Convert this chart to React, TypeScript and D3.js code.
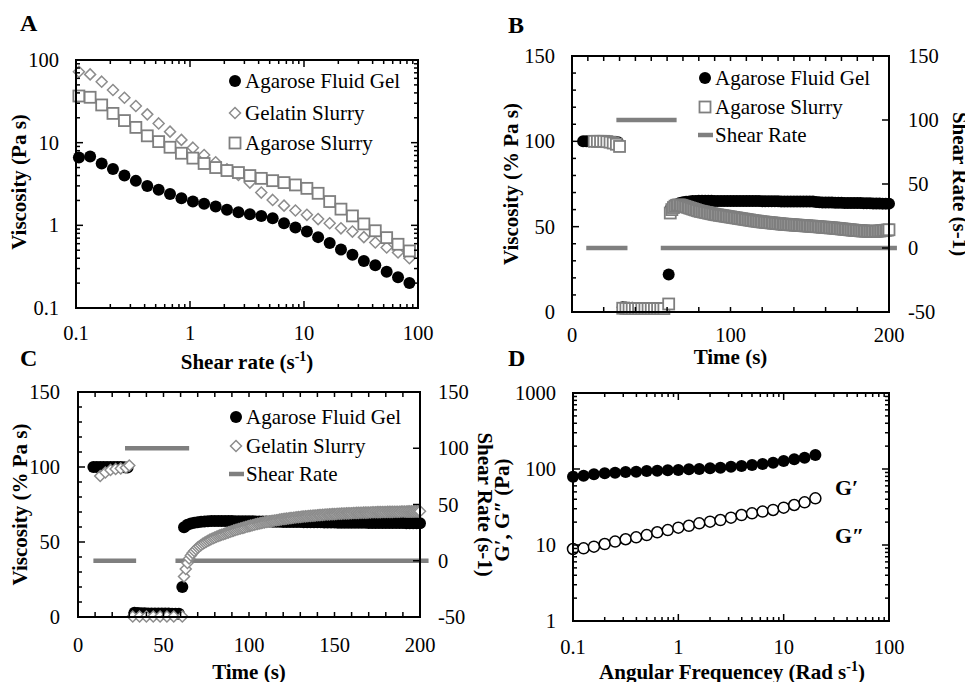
import React from "react";
import * as d3 from "d3";

const FONT = '"Liberation Serif", "DejaVu Serif", "Times New Roman", Times, serif';
const GREY = "#7f7f7f";
const DIAMOND_GREY = "#8c8c8c";
const TICK_FONT = 20.5;
const LEGEND_FONT = 21;
const TITLE_FONT = 21;

// ---------- Panel A: viscosity vs shear rate ----------
const shearRateA = [0.106, 0.133, 0.168, 0.211, 0.266, 0.335, 0.422, 0.531, 0.668, 0.841, 1.06, 1.33, 1.68, 2.11, 2.66, 3.35, 4.22, 5.31, 6.68, 8.41, 10.6, 13.3, 16.8, 21.1, 26.6, 33.5, 42.2, 53.1, 66.8, 84.1];
const fluidGelA = [6.6, 6.8, 5.6, 4.8, 4.0, 3.45, 3.0, 2.7, 2.4, 2.12, 1.94, 1.82, 1.69, 1.54, 1.44, 1.36, 1.3, 1.22, 1.06, 0.94, 0.84, 0.72, 0.61, 0.51, 0.44, 0.37, 0.33, 0.275, 0.235, 0.2];
const gelatinA = [72, 67, 54.7, 43.4, 35, 27.8, 22, 17.1, 13.6, 10.8, 8.7, 7.1, 5.8, 4.77, 4.07, 3.29, 2.49, 2.03, 1.73, 1.51, 1.34, 1.19, 1.06, 0.92, 0.84, 0.72, 0.62, 0.54, 0.47, 0.4];
const agaroseSlurryA = [36.7, 35.4, 28.6, 22.6, 18.5, 15.3, 12.1, 10.3, 8.8, 7.45, 6.5, 5.6, 5.0, 4.6, 4.35, 4.0, 3.7, 3.47, 3.29, 3.08, 2.8, 2.44, 1.94, 1.57, 1.3, 1.04, 0.86, 0.71, 0.59, 0.49];
const logTicksA = [0.1, 1, 10, 100];

// ---------- Panel B: recovery, agarose fluid gel vs agarose slurry ----------
const gelB1T = [7, 9, 11, 13, 15, 17, 19, 21, 23, 25, 27, 29];
const gelB1 = [100, 100, 100, 100, 100, 100, 100, 100, 100, 99.8, 99.6, 99.5];
const gelB2T = [32, 34, 36, 38, 40, 42, 44, 46, 48, 50, 52, 54, 56, 58, 61];
const gelB2 = [2.8, 2.6, 2.5, 2.5, 2.4, 2.4, 2.4, 2.3, 2.3, 2.3, 2.3, 2.2, 2.2, 2.2, 22];
const gelB3T = d3.range(62, 201, 2);
const gelB3 = [60, 62, 63, 63.8, 64.3, 64.6, 64.8, 65, 65.1, 65.2, 65.2, 65.2, 65.2, 65.2, 65.1, 65.1, 65.1, 65.1, 65, 65, 65, 65, 65, 65, 65, 65, 65, 65, 65, 64.9, 64.9, 64.9, 64.9, 64.9, 64.9, 64.8, 64.8, 64.8, 64.8, 64.8, 64.8, 64.8, 64.7, 64.7, 64.7, 64.7, 64.4, 64.3, 64.2, 64.2, 64.1, 64.1, 64, 64, 64, 63.9, 63.9, 63.9, 63.8, 63.8, 63.8, 63.7, 63.7, 63.7, 63.6, 63.6, 63.6, 63.5, 63.5, 63.5];
const slurryB1T = [14, 16, 18, 20, 22, 24, 26, 28, 30];
const slurryB1 = [100, 100, 100, 100, 99.8, 99.5, 99, 98.3, 97];
const slurryB2T = [32, 34, 36, 38, 40, 42, 44, 46, 48, 50, 52, 54, 56, 58, 61];
const slurryB2 = [2.2, 2.1, 2, 2, 2, 2, 2, 2, 2, 2, 2, 2, 2, 2, 4.7];
const slurryB3T = d3.range(62, 201);
const slurryB3 = [
  58, 60, 61.2, 62, 62.5, 62.7, 62.7, 62.5, 62.2, 61.9,
  61.6, 61.3, 61, 60.7, 60.4, 60.1, 59.8, 59.5, 59.2, 59,
  58.8, 58.6, 58.4, 58.2, 58, 57.8, 57.6, 57.4, 57.2, 57,
  56.9, 56.7, 56.6, 56.4, 56.3, 56.1, 56, 55.8, 55.7, 55.5,
  55.4, 55.2, 55.1, 54.9, 54.8, 54.6, 54.5, 54.3, 54.2, 54,
  53.9, 53.7, 53.6, 53.4, 53.3, 53.2, 53, 52.9, 52.8, 52.7,
  52.6, 52.5, 52.4, 52.3, 52.2, 52.1, 52, 51.9, 51.8, 51.7,
  51.6, 51.5, 51.4, 51.4, 51.3, 51.2, 51.1, 51.1, 51, 50.9,
  50.9, 50.8, 50.7, 50.7, 50.6, 50.5, 50.5, 50.4, 50.3, 50.3,
  50.2, 50.1, 50, 50, 49.9, 49.8, 49.7, 49.7, 49.6, 49.5,
  49.4, 49.3, 49.3, 49.2, 49.1, 49, 48.9, 48.8, 48.7, 48.6,
  48.5, 48.4, 48.3, 48.2, 48.1, 48, 47.9, 47.8, 47.8, 47.7,
  47.6, 47.5, 47.5, 47.4, 47.4, 47.3, 47.3, 47.2, 47.2, 47.2,
  47.3, 47.4, 47.5, 47.6, 47.7, 47.8, 47.9, 48, 48.2,
];
const shearBT = [9, 35, NaN, 28, 66, NaN, 56, 205];
const shearB = [0, 0, NaN, 100, 100, NaN, 0, 0];

// ---------- Panel C: recovery, agarose fluid gel vs gelatin slurry ----------
const gelC1T = [9, 11, 13, 15, 17, 19, 21, 23, 25, 27, 29];
const gelC1 = [100, 100, 100, 100, 100, 100, 100, 100, 100, 99.8, 99.6];
const gelC2T = [33, 35, 37, 39, 41, 43, 45, 47, 49, 51, 53, 55, 57, 59, 61];
const gelC2 = [2.8, 2.6, 2.5, 2.5, 2.4, 2.4, 2.4, 2.3, 2.3, 2.3, 2.3, 2.2, 2.2, 2.2, 20];
const gelC3T = d3.range(62, 201, 2);
const gelC3 = [
  59.8, 61.5, 62.3, 62.8, 63.2, 63.5, 63.7, 63.9, 64, 64,
  64, 64, 64, 64, 64, 63.9, 63.9, 63.9, 63.8, 63.8,
  63.8, 63.7, 63.7, 63.7, 63.6, 63.6, 63.5, 63.5, 63.5, 63.4,
  63.4, 63.4, 63.3, 63.3, 63.3, 63.2, 63.2, 63.2, 63.1, 63.1,
  63.1, 63, 63, 63, 63, 62.9, 62.9, 62.9, 62.9, 62.8,
  62.8, 62.8, 62.8, 62.8, 62.7, 62.7, 62.7, 62.7, 62.7, 62.6,
  62.6, 62.6, 62.6, 62.6, 62.6, 62.5, 62.5, 62.5, 62.5, 62.5,
];
const gelatinC1T = [13, 16, 19, 22, 25, 28, 30];
const gelatinC1 = [94, 96.3, 98, 98.7, 99, 99.5, 101];
const gelatinC2T = [32, 36, 40, 44, 48, 52, 56, 61];
const gelatinC2 = [0.3, 0.3, 0.3, 0.3, 0.3, 0.3, 0.3, 0.3];
const gelatinC3T = d3.range(62, 201);
const gelatinC3 = [
  27, 32, 36, 39, 41, 42.6, 44, 45.2, 46.3, 47.2,
  48, 48.8, 49.5, 50.2, 50.8, 51.4, 52, 52.5, 53, 53.5,
  54, 54.4, 54.8, 55.2, 55.6, 56, 56.4, 56.8, 57.2, 57.6,
  58, 58.3, 58.7, 59, 59.3, 59.6, 60, 60.3, 60.6, 60.9,
  61.2, 61.5, 61.8, 62.1, 62.3, 62.6, 62.8, 63.1, 63.3, 63.5,
  63.7, 63.9, 64.1, 64.3, 64.5, 64.7, 64.9, 65.1, 65.3, 65.4,
  65.6, 65.7, 65.9, 66, 66.2, 66.3, 66.5, 66.6, 66.7, 66.9,
  67, 67.1, 67.2, 67.3, 67.4, 67.5, 67.6, 67.7, 67.8, 67.9,
  68, 68.1, 68.2, 68.3, 68.3, 68.4, 68.5, 68.6, 68.6, 68.7,
  68.8, 68.8, 68.9, 69, 69, 69.1, 69.1, 69.2, 69.2, 69.3,
  69.3, 69.4, 69.4, 69.5, 69.5, 69.6, 69.6, 69.6, 69.7, 69.7,
  69.8, 69.8, 69.8, 69.9, 69.9, 69.9, 70, 70, 70, 70.1,
  70.1, 70.1, 70.1, 70.2, 70.2, 70.2, 70.2, 70.3, 70.3, 70.3,
  70.3, 70.4, 70.4, 70.4, 70.4, 70.5, 70.5, 70.5, 70.5,
];
const shearCT = [9, 34, NaN, 27.5, 65, NaN, 57, 205];
const shearC = [0, 0, NaN, 100, 100, NaN, 0, 0];

const timeTicks = [0, 50, 100, 150, 200];
const viscTicks = [0, 50, 100, 150];
const rateTicks = [-50, 0, 50, 100, 150];

// ---------- Panel D: frequency sweep ----------
const freqD = [0.1, 0.126, 0.158, 0.2, 0.251, 0.316, 0.398, 0.501, 0.631, 0.794, 1, 1.26, 1.58, 2, 2.51, 3.16, 3.98, 5.01, 6.31, 7.94, 10, 12.6, 15.8, 20];
const gPrimeD = [79, 81.6, 85.2, 87.8, 89.4, 91.2, 92, 94.1, 95, 96.2, 97, 99, 100, 102, 104, 107, 109.5, 113, 116, 121, 127, 134, 141, 153];
const gDoublePrimeD = [8.86, 9.04, 9.5, 10.3, 11.1, 11.9, 12.6, 13.5, 14.7, 15.7, 16.9, 17.9, 19.3, 20.3, 21.3, 22.9, 24.8, 26.1, 27.5, 28.9, 31, 33.6, 36.4, 41.1];
const logTicksDX = [0.1, 1, 10, 100];
const logTicksDY = [1, 10, 100, 1000];

type Pt = [number, number];
const zip = (t: number[], v: number[]): Pt[] =>
  t.map((ti, i) => [ti, v[i]] as Pt).filter((d) => d[1] !== undefined);

const Dot = ({ x, y }: { x: number; y: number }) => <circle cx={x} cy={y} r={6} fill="#000" />;
const Square = ({ x, y }: { x: number; y: number }) => (
  <rect x={x - 5.5} y={y - 5.5} width={11} height={11} fill="#fff" stroke={GREY} strokeWidth={1.8} />
);
const Diamond = ({ x, y }: { x: number; y: number }) => (
  <path d={`M${x},${y - 5.5}L${x + 5.5},${y}L${x},${y + 5.5}L${x - 5.5},${y}Z`} fill="#fff" stroke={DIAMOND_GREY} strokeWidth={1.5} />
);
const Ring = ({ x, y }: { x: number; y: number }) => (
  <circle cx={x} cy={y} r={5.5} fill="#fff" stroke="#000" strokeWidth={1.5} />
);

type Mark = { pos: number; len: number };
function Frame({ x0, x1, y0, y1, bottom, top, left, right }: {
  x0: number; x1: number; y0: number; y1: number;
  bottom: Mark[]; top: Mark[]; left: Mark[]; right: Mark[];
}) {
  return (
    <g stroke="#000" fill="none" strokeWidth={1.5}>
      {bottom.map((t, i) => <line key={"b" + i} x1={t.pos} x2={t.pos} y1={y1} y2={y1 - t.len} />)}
      {top.map((t, i) => <line key={"t" + i} x1={t.pos} x2={t.pos} y1={y0} y2={y0 + t.len} />)}
      {left.map((t, i) => <line key={"l" + i} x1={x0} x2={x0 + t.len} y1={t.pos} y2={t.pos} />)}
      {right.map((t, i) => <line key={"r" + i} x1={x1} x2={x1 - t.len} y1={t.pos} y2={t.pos} />)}
      <rect x={x0} y={y0} width={x1 - x0} height={y1 - y0} strokeWidth={2} />
    </g>
  );
}

function logMarks(scale: (v: number) => number, lo: number, hi: number): Mark[] {
  const out: Mark[] = [];
  for (let e = Math.round(Math.log10(lo)); e < Math.round(Math.log10(hi)); e++)
    for (let k = 1; k <= 9; k++) out.push({ pos: scale(k * 10 ** e), len: k === 1 ? 7 : 4 });
  return out;
}
const linMarks = (scale: (v: number) => number, vals: number[], len: (v: number) => number): Mark[] =>
  vals.map((v) => ({ pos: scale(v), len: len(v) }));

const fmt = (v: number) => String(v);

function XLabels({ scale, vals, y }: { scale: (v: number) => number; vals: number[]; y: number }) {
  return <g fontSize={TICK_FONT} textAnchor="middle">{vals.map((v) => <text key={v} x={scale(v)} y={y}>{fmt(v)}</text>)}</g>;
}
function YLabels({ scale, vals, x, anchor }: { scale: (v: number) => number; vals: number[]; x: number; anchor: string }) {
  return <g fontSize={TICK_FONT} textAnchor={anchor}>{vals.map((v) => <text key={v} x={x} y={scale(v) + 7}>{fmt(v)}</text>)}</g>;
}

function ShearLine({ sx, sy, t, v }: { sx: (v: number) => number; sy: (v: number) => number; t: number[]; v: number[] }) {
  const line = d3.line<Pt>().defined((d) => !isNaN(d[1])).x((d) => sx(d[0])).y((d) => sy(d[1]));
  return <path d={line(zip(t, v)) || ""} fill="none" stroke={GREY} strokeWidth={4.5} />;
}

function PanelA() {
  const x0 = 76, x1 = 418, y0 = 60, y1 = 308;
  const sx = d3.scaleLog().domain([0.1, 100]).range([x0, x1]);
  const sy = d3.scaleLog().domain([0.1, 100]).range([y1, y0]);
  const xm = logMarks(sx, 0.1, 100), ym = logMarks(sy, 0.1, 100);
  return (
    <g>
      <text x={20} y={31} fontSize={24} fontWeight="bold">A</text>
      {shearRateA.map((x, i) => <Dot key={"g" + i} x={sx(x)} y={sy(fluidGelA[i])} />)}
      {shearRateA.map((x, i) => <Diamond key={"d" + i} x={sx(x)} y={sy(gelatinA[i])} />)}
      {shearRateA.map((x, i) => <Square key={"s" + i} x={sx(x)} y={sy(agaroseSlurryA[i])} />)}
      <Frame x0={x0} x1={x1} y0={y0} y1={y1} bottom={xm} top={xm} left={ym} right={ym} />
      <YLabels scale={sy} vals={logTicksA} x={59} anchor="end" />
      <XLabels scale={sx} vals={logTicksA} y={340} />
      <g fontSize={LEGEND_FONT}>
        <Dot x={235} y={81} />
        <text x={245} y={88}>Agarose Fluid Gel</text>
        <Diamond x={235} y={113} />
        <text x={245} y={120}>Gelatin Slurry</text>
        <Square x={235} y={143} />
        <text x={245} y={150}>Agarose Slurry</text>
      </g>
      <g fontSize={TITLE_FONT} fontWeight="bold" textAnchor="middle">
        <text transform="translate(26,182) rotate(-90)">Viscosity (Pa s)</text>
        <text x={247} y={369}>Shear rate (s<tspan dy={-8} fontSize={14}>-1</tspan><tspan dy={8}>)</tspan></text>
      </g>
    </g>
  );
}

function TimePanel(props: {
  label: string; lx: number; ly: number;
  x0: number; x1: number; y0: number; y1: number;
  bottomStep: number; tickY: number; titleY: number;
  leftTitleX: number; rightTitleX: number; rightLabelX: number; leftLabelX: number;
  gel: Pt[]; other: Pt[]; otherKind: "square" | "diamond"; otherName: string;
  shearT: number[]; shear: number[]; legendX: number; legendY: number;
}) {
  const { x0, x1, y0, y1 } = props;
  const sx = d3.scaleLinear().domain([0, 200]).range([x0, x1]);
  const sy = d3.scaleLinear().domain([0, 150]).range([y1, y0]);
  const sr = d3.scaleLinear().domain([-50, 150]).range([y1, y0]);
  const Other = props.otherKind === "square" ? Square : Diamond;
  const lx = props.legendX, ly = props.legendY;
  const midY = (y0 + y1) / 2;
  return (
    <g>
      <text x={props.lx} y={props.ly} fontSize={24} fontWeight="bold">{props.label}</text>
      <ShearLine sx={sx} sy={sr} t={props.shearT} v={props.shear} />
      {props.gel.map((d, i) => <Dot key={"g" + i} x={sx(d[0])} y={sy(d[1])} />)}
      {props.other.map((d, i) => <Other key={"o" + i} x={sx(d[0])} y={sy(d[1])} />)}
      <Frame
        x0={x0} x1={x1} y0={y0} y1={y1}
        bottom={linMarks(sx, d3.range(0, 201, props.bottomStep), () => 5)}
        top={linMarks(sx, d3.range(0, 201, 10), () => 5)}
        left={linMarks(sy, d3.range(0, 151, 10), (v) => (v % 50 === 0 ? 7 : 4))}
        right={linMarks(sr, rateTicks, () => 7)}
      />
      <YLabels scale={sy} vals={viscTicks} x={props.leftLabelX} anchor="end" />
      <YLabels scale={sr} vals={rateTicks} x={props.rightLabelX} anchor="start" />
      <XLabels scale={sx} vals={props.bottomStep === 20 ? [0, 100, 200] : timeTicks} y={props.tickY} />
      <g fontSize={LEGEND_FONT}>
        <Dot x={lx} y={ly} />
        <text x={lx + 10} y={ly + 7}>Agarose Fluid Gel</text>
        <Other x={lx} y={ly + 29} />
        <text x={lx + 10} y={ly + 36}>{props.otherName}</text>
        <line x1={lx - 7} x2={lx + 8} y1={ly + 57} y2={ly + 57} stroke={GREY} strokeWidth={4.5} />
        <text x={lx + 10} y={ly + 64}>Shear Rate</text>
      </g>
      <g fontSize={TITLE_FONT} fontWeight="bold" textAnchor="middle">
        <text transform={`translate(${props.leftTitleX},${midY + 0}) rotate(-90)`}>Viscosity (% Pa s)</text>
        <text transform={`translate(${props.rightTitleX},${midY}) rotate(90)`}>Shear Rate (s-1)</text>
        <text x={(x0 + x1) / 2} y={props.titleY}>Time (s)</text>
      </g>
    </g>
  );
}

function PanelD() {
  const x0 = 573, x1 = 889, y0 = 393, y1 = 621;
  const sx = d3.scaleLog().domain([0.1, 100]).range([x0, x1]);
  const sy = d3.scaleLog().domain([1, 1000]).range([y1, y0]);
  const xm = logMarks(sx, 0.1, 100), ym = logMarks(sy, 1, 1000);
  return (
    <g>
      <text x={508} y={366} fontSize={24} fontWeight="bold">D</text>
      {freqD.map((x, i) => <Dot key={"p" + i} x={sx(x)} y={sy(gPrimeD[i])} />)}
      {freqD.map((x, i) => <Ring key={"q" + i} x={sx(x)} y={sy(gDoublePrimeD[i])} />)}
      <Frame x0={x0} x1={x1} y0={y0} y1={y1} bottom={xm} top={xm} left={ym} right={ym} />
      <YLabels scale={sy} vals={logTicksDY} x={556} anchor="end" />
      <XLabels scale={sx} vals={logTicksDX} y={654} />
      <g fontSize={22} fontWeight="bold">
        <text x={835} y={495}>G′</text>
        <text x={835} y={543}>G″</text>
      </g>
      <g fontSize={TITLE_FONT} fontWeight="bold" textAnchor="middle">
        <text transform="translate(509,510) rotate(-90)">G′, G″ (Pa)</text>
        <text x={732} y={679}>Angular Frequencey (Rad s<tspan dy={-8} fontSize={14}>-1</tspan><tspan dy={8}>)</tspan></text>
      </g>
    </g>
  );
}

export default function App() {
  const gelB = [...zip(gelB1T, gelB1), ...zip(gelB2T, gelB2), ...zip(gelB3T, gelB3)];
  const slurryB = [...zip(slurryB1T, slurryB1), ...zip(slurryB2T, slurryB2), ...zip(slurryB3T, slurryB3)];
  const gelC = [...zip(gelC1T, gelC1), ...zip(gelC2T, gelC2), ...zip(gelC3T, gelC3)];
  const gelatinC = [...zip(gelatinC1T, gelatinC1), ...zip(gelatinC2T, gelatinC2), ...zip(gelatinC3T, gelatinC3)];
  return (
    <svg width={965} height={682} style={{ position: "absolute", left: 0, top: 0, background: "#fff", fontFamily: FONT }} fill="#000">
      <PanelA />
      <TimePanel
        label="B" lx={508} ly={33} x0={572} x1={889} y0={56} y1={312}
        bottomStep={20} tickY={342} titleY={364}
        leftTitleX={518} rightTitleX={953} rightLabelX={908} leftLabelX={555}
        gel={gelB} other={slurryB} otherKind="square" otherName="Agarose Slurry"
        shearT={shearBT} shear={shearB} legendX={705} legendY={78}
      />
      <TimePanel
        label="C" lx={20} ly={366} x0={78} x1={420} y0={392} y1={617}
        bottomStep={10} tickY={652} titleY={679}
        leftTitleX={27} rightTitleX={478} rightLabelX={438} leftLabelX={60}
        gel={gelC} other={gelatinC} otherKind="diamond" otherName="Gelatin Slurry"
        shearT={shearCT} shear={shearC} legendX={236} legendY={417}
      />
      <PanelD />
    </svg>
  );
}
